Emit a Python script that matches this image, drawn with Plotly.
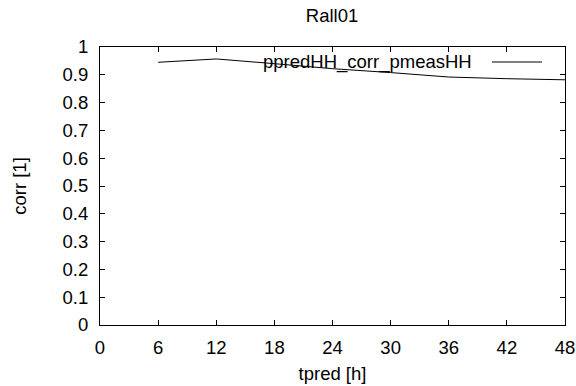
import plotly.graph_objects as go

tpred = [6, 12, 18, 24, 30, 36, 42, 48]
corr = [0.945, 0.957, 0.940, 0.922, 0.908, 0.892, 0.886, 0.882]
series_name = "ppredHH_corr_pmeasHH"
x_ticks = [0, 6, 12, 18, 24, 30, 36, 42, 48]
y_ticks = [0, 0.1, 0.2, 0.3, 0.4, 0.5, 0.6, 0.7, 0.8, 0.9, 1]
y_tick_labels = ["0", "0.1", "0.2", "0.3", "0.4", "0.5", "0.6", "0.7", "0.8", "0.9", "1"]

font = dict(family="Liberation Sans, Arial, sans-serif", size=18.5, color="black")

fig = go.Figure()
fig.add_trace(go.Scatter(x=tpred, y=corr, mode="lines", name=series_name,
                         line=dict(color="black", width=1), showlegend=False))

L, R, T, B = 100, 11, 47, 61
W, H = 576, 386
pw = W - L - R
ph = H - T - B

# legend: text then sample line (gnuplot style)
ly = 1 - (62 - T) / ph
fig.add_annotation(text=series_name, xref="paper", yref="paper",
                   x=(474 - L) / pw, y=ly, xanchor="right", yanchor="middle",
                   showarrow=False, font=font)
fig.add_shape(type="line", xref="paper", yref="paper",
              x0=(492 - L) / pw, x1=(542 - L) / pw, y0=ly, y1=ly,
              line=dict(color="black", width=1))

axis_common = dict(showline=True, linecolor="black", linewidth=1, mirror="ticks",
                   ticks="inside", ticklen=5, tickcolor="black", tickwidth=1,
                   showgrid=False, zeroline=False, tickfont=font, automargin=False)

fig.update_layout(
    width=W, height=H,
    margin=dict(l=L, r=R, t=T, b=B, pad=0),
    paper_bgcolor="white", plot_bgcolor="white",
    font=font,
    title=dict(text="Rall01", x=332 / W, xanchor="center", y=1 - 16 / H, yanchor="middle",
               font=font),
    xaxis=dict(range=[0, 48], tickvals=x_ticks, ticktext=[str(v) for v in x_ticks],
               ticklabelstandoff=6,
               title=dict(text="tpred [h]", font=font, standoff=9), **axis_common),
    yaxis=dict(range=[0, 1], tickvals=y_ticks, ticktext=y_tick_labels,
               ticklabelstandoff=7,
               title=dict(text="corr [1]", font=font, standoff=31), **axis_common),
)

fig.write_html("out.html", config={"displayModeBar": False},
               post_script="document.body.style.margin='0';")
